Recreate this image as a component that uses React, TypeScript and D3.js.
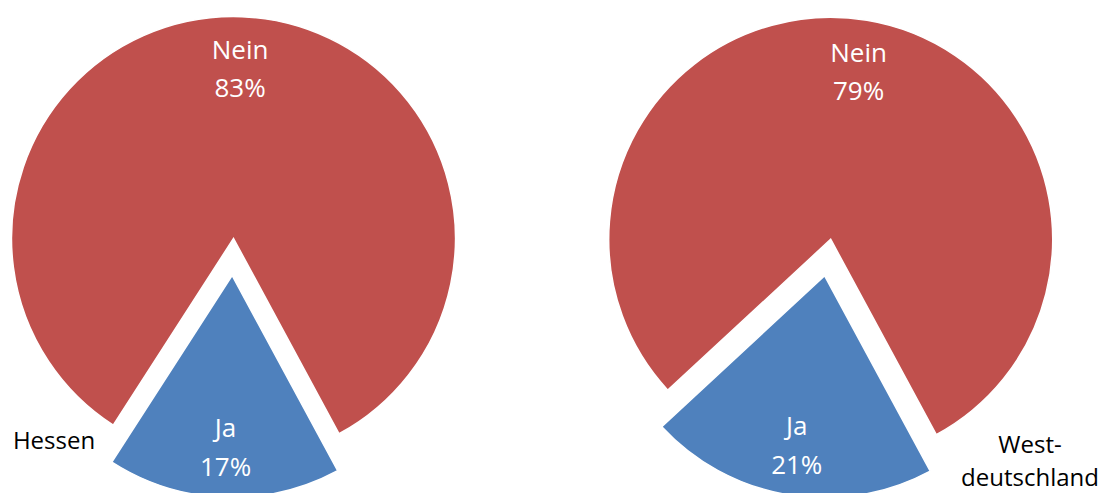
import React from "react";
import * as d3 from "d3";

const categories = ["Ja", "Nein"];
const hessenValues = [17, 83];
const westValues = [21, 79];
const pieNames = ["Hessen", "West-\ndeutschland"];

const COLORS: Record<string, string> = { Ja: "#4F81BD", Nein: "#C0504D" };
const WIDTH = 1106;
const HEIGHT = 493;
const R = 222;
const EXPLODE = 37;
const LABEL_R = R * 0.77;
const START = (151.6 * Math.PI) / 180;

type PieSpec = {
  values: number[];
  cx: number;
  cy: number;
  name: string;
  nameX: number;
  nameY: number;
};

const pies: PieSpec[] = [
  { values: hessenValues, cx: 233.5, cy: 238.5, name: pieNames[0], nameX: 54, nameY: 449 },
  { values: westValues, cx: 830.7, cy: 239.3, name: pieNames[1], nameX: 1030, nameY: 453 },
];

const FONT = "'Open Sans', 'Noto Sans', sans-serif";

function Pie({ spec }: { spec: PieSpec }) {
  const data = categories.map((c, i) => ({ cat: c, value: spec.values[i] }));
  const pieGen = d3
    .pie<{ cat: string; value: number }>()
    .sort(null)
    .value((d) => d.value)
    .startAngle(START)
    .endAngle(START + 2 * Math.PI);
  const arcs = pieGen(data);
  const arcGen = d3.arc<d3.PieArcDatum<{ cat: string; value: number }>>().innerRadius(0).outerRadius(R);
  const labelArc = d3
    .arc<d3.PieArcDatum<{ cat: string; value: number }>>()
    .innerRadius(LABEL_R)
    .outerRadius(LABEL_R);
  const nameLines = spec.name.split("\n");
  return (
    <g>
      {arcs.map((a) => {
        const mid = (a.startAngle + a.endAngle) / 2;
        const off = a.data.cat === "Ja" ? EXPLODE : 0;
        const dx = off * Math.sin(mid);
        const dy = -off * Math.cos(mid);
        const [lx, ly] = labelArc.centroid(a);
        return (
          <g key={a.data.cat} transform={`translate(${spec.cx + dx},${spec.cy + dy})`}>
            <path d={arcGen(a) || ""} fill={COLORS[a.data.cat]} stroke="#fff" strokeWidth={1.5} />
            <text
              x={lx}
              y={ly}
              textAnchor="middle"
              fill="#fff"
              fontFamily={FONT}
              fontSize={26}
            >
              <tspan x={lx} dy={-9}>{a.data.cat}</tspan>
              <tspan x={lx} dy={38.5}>{`${a.data.value}%`}</tspan>
            </text>
          </g>
        );
      })}
      <text textAnchor="middle" fill="#000" fontFamily={FONT} fontSize={24}>
        {nameLines.map((l, i) => (
          <tspan key={i} x={spec.nameX} y={spec.nameY + i * 33}>
            {l}
          </tspan>
        ))}
      </text>
    </g>
  );
}

export default function App() {
  return (
    <svg
      width={WIDTH}
      height={HEIGHT}
      style={{ position: "absolute", left: 0, top: 0, background: "#fff" }}
    >
      <rect width={WIDTH} height={HEIGHT} fill="#fff" />
      {pies.map((p, i) => (
        <Pie key={i} spec={p} />
      ))}
    </svg>
  );
}
